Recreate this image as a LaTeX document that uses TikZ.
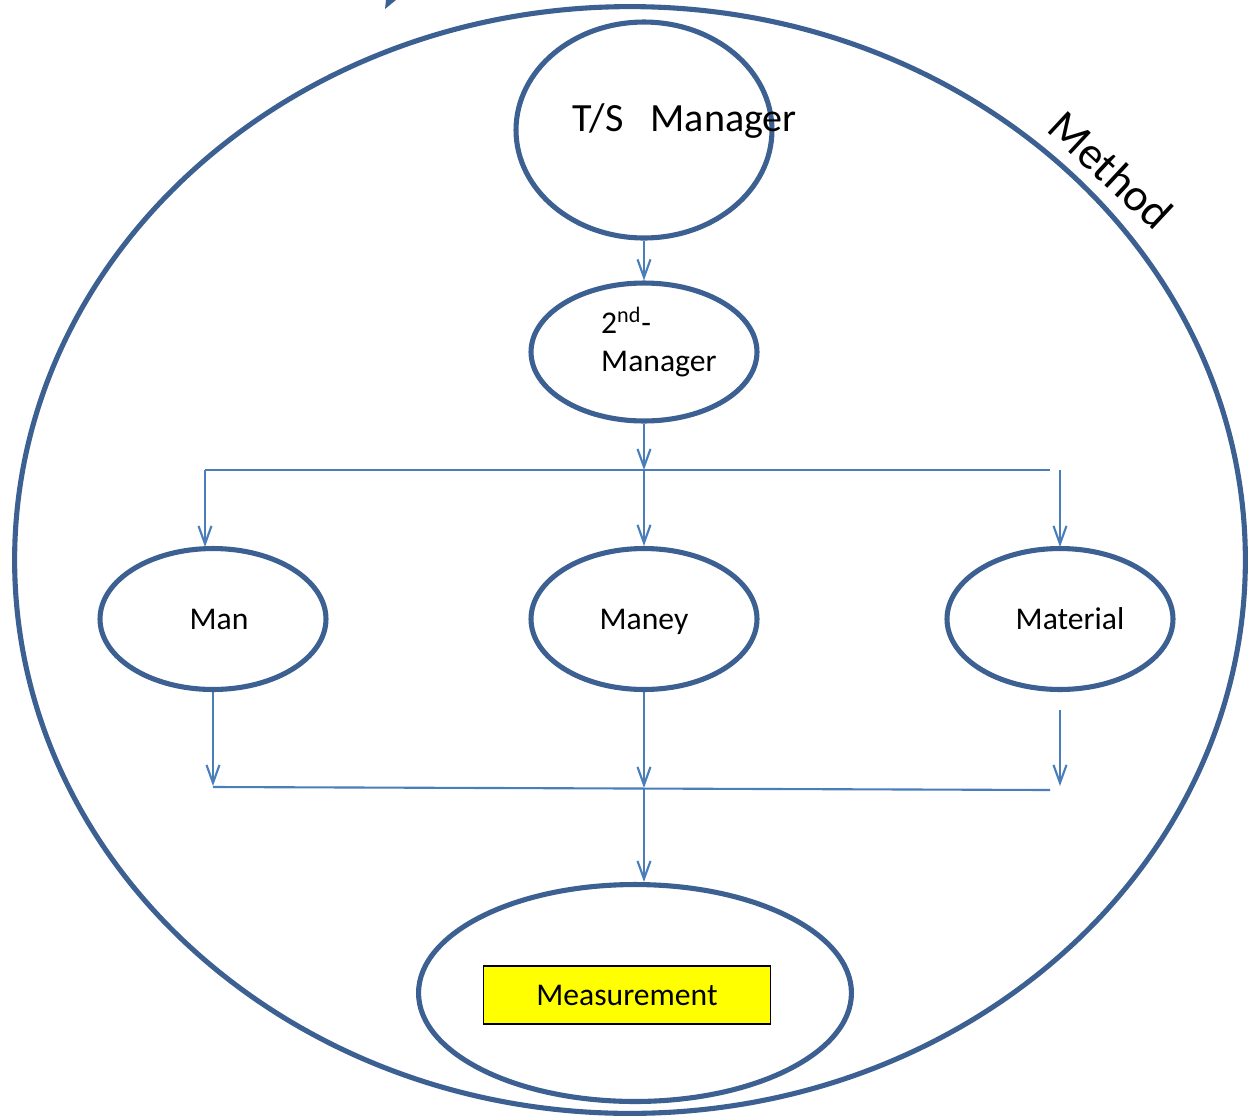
\documentclass[tikz,border=0pt]{standalone}
\usepackage{fontspec}
\setmainfont{Carlito}
\usetikzlibrary{arrows.meta,positioning,shapes.geometric}
\definecolor{RimBlue}{RGB}{60,96,146}
\definecolor{FlowBlue}{RGB}{74,126,187}
\definecolor{MarkYellow}{RGB}{255,255,0}

\begin{document}
\begin{tikzpicture}[x=0.02cm,y=-0.02cm,
  rim/.style={ellipse,draw=RimBlue,line width=2.9pt,inner sep=0pt},
  flow/.style={FlowBlue,line width=1.2pt,-{Straight Barb[length=3.6mm,width=2.6mm]}},
  bus/.style={FlowBlue,line width=1.2pt},
  lbl/.style={font=\fontsize{18}{22}\selectfont},
  mlbl/.style={lbl,text height=0.72em,text depth=0.22em}]
  \useasboundingbox (0,0) rectangle (1249,1117);
  % outer ring and the stray tip at the top
  \node[rim,minimum width=24.62cm,minimum height=22.14cm] (method) at (630,560){};
  \fill[RimBlue] (385,9) -- (386,0) -- (396,0) -- cycle;
  \node[lbl,font=\fontsize{26}{30}\selectfont,rotate=-43] (methodtxt) at (1111,170){Method};
  % managers
  \node[rim,minimum width=5.12cm,minimum height=4.32cm] (ts) at (644,130){};
  \node[lbl,font=\fontsize{22.8}{26}\selectfont,anchor=west] (tstxt) at (566,121){T/S\hspace{0.68em}Manager};
  \node[rim,minimum width=4.52cm,minimum height=2.76cm] (mgr) at (644,352){};
  \node[lbl,align=left,anchor=west] (mgrtxt) at (595,342){2\textsuperscript{nd}-\\Manager};
  % the three M's
  \node[rim,minimum width=4.52cm,minimum height=2.82cm] (man) at (213,619){};
  \node[mlbl] (mantxt) at (219,625){Man};
  \node[rim,minimum width=4.52cm,minimum height=2.82cm] (maney) at (644,619){};
  \node[mlbl] (maneytxt) at (644,625){Maney};
  \node[rim,minimum width=4.52cm,minimum height=2.82cm] (mat) at (1060,619){};
  \node[mlbl] (mattxt) at (1070,625){Material};
  % result
  \node[rim,minimum width=8.66cm,minimum height=4.34cm] (meas) at (635,993){};
  \node[lbl,draw=black,line width=0.8pt,fill=MarkYellow,minimum width=5.74cm,minimum height=1.16cm] (meastxt) at (627,995){Measurement};
  % split bus
  \coordinate (busL) at (205,470);
  \coordinate (busM) at (644,470);
  \coordinate (busR) at (1050,470);
  \coordinate (busRR) at (1060,470);
  \draw[flow] (ts) -- (mgr);
  \draw[flow] (mgr) -- (busM);
  \draw[bus] (busL) -- (busR);
  \draw[flow] (busL) -- (205,547);
  \draw[flow] (busM) -- (maney);
  \draw[flow] (busRR) -- (1060,547);
  % join bus
  \coordinate (joinL) at (213,787);
  \coordinate (joinM) at (644,788);
  \coordinate (joinR) at (1050,790);
  \coordinate (matout) at (1060,710);
  \coordinate (measin) at (644,882);
  \draw[flow] (man) -- (213,786);
  \draw[flow] (maney) -- (joinM);
  \draw[flow] (matout) -- (1060,786);
  \draw[bus] (joinL) -- (joinR);
  \draw[flow] (joinM) -- (measin);
\end{tikzpicture}
\end{document}
